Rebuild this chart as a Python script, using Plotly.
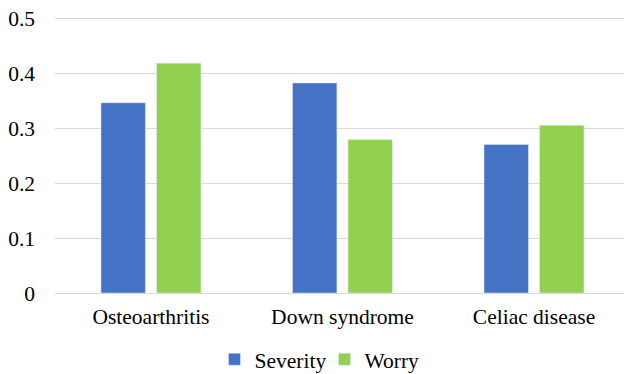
import plotly.graph_objects as go

categories = ["Osteoarthritis", "Down syndrome", "Celiac disease"]
severity = [0.346, 0.382, 0.270]
worry = [0.418, 0.279, 0.305]
y_ticks = [0, 0.1, 0.2, 0.3, 0.4, 0.5]
y_tick_labels = ["0", "0.1", "0.2", "0.3", "0.4", "0.5"]

font = dict(family="Liberation Serif", size=21.5, color="#000000")

fig = go.Figure()
fig.add_trace(go.Bar(name="Severity", x=categories, y=severity, marker_color="#4472C4"))
fig.add_trace(go.Bar(name="Worry", x=categories, y=worry, marker_color="#92D050"))

fig.update_layout(
    width=624, height=374,
    margin=dict(l=55, r=0, t=17, b=81, autoexpand=False),
    paper_bgcolor="white", plot_bgcolor="white",
    font=font,
    barmode="group", bargap=0.42, bargroupgap=0.2,
    showlegend=True,
    legend=dict(orientation="h", x=0.4736, xanchor="center", y=-0.24, yanchor="middle",
                font=font, itemwidth=30, entrywidth=65, entrywidthmode="pixels",
                traceorder="normal"),
)
fig.update_xaxes(range=[-0.501, 2.47], showgrid=False, showline=True, linecolor="#D9D9D9",
                 linewidth=1, ticks="", tickfont=font, ticklabelstandoff=4)
fig.update_yaxes(range=[0, 0.502], tickvals=y_ticks, ticktext=y_tick_labels, showgrid=True,
                 gridcolor="#D9D9D9", gridwidth=1, zeroline=False, showline=False,
                 ticks="", tickfont=font, ticklabelstandoff=19)

fig.write_html("out.html", config={"displayModeBar": False},
               post_script="document.body.style.margin='0';document.body.style.padding='0';")
